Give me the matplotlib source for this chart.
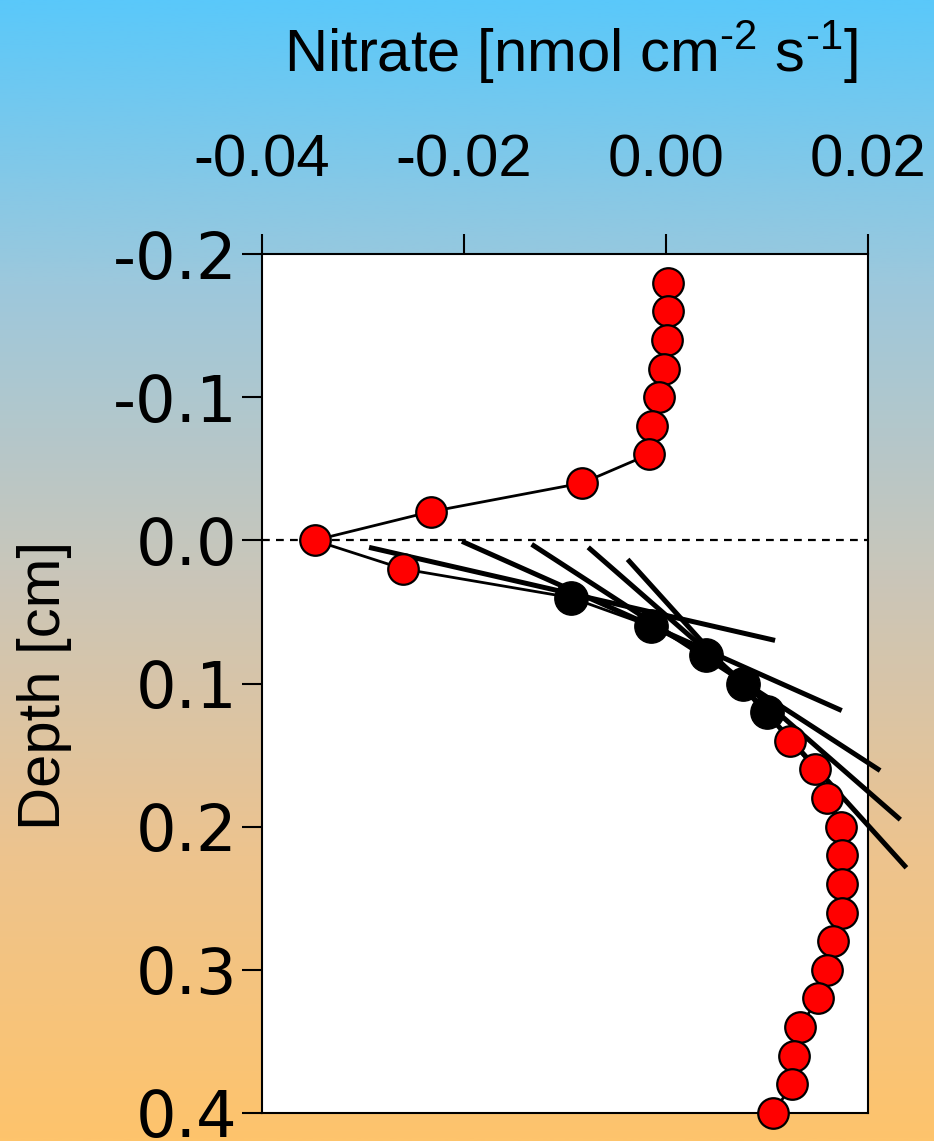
import numpy as np
import matplotlib
matplotlib.use("Agg")
import matplotlib.pyplot as plt
from matplotlib.colors import LinearSegmentedColormap

plt.rcParams['font.family'] = ['Liberation Sans', 'DejaVu Sans']
plt.rcParams['mathtext.fontset'] = 'custom'
plt.rcParams['mathtext.rm'] = 'Liberation Sans'
plt.rcParams['mathtext.it'] = 'Liberation Sans'

# ---------------- data ----------------
depth_red = [-0.18, -0.16, -0.14, -0.12, -0.10, -0.08, -0.06, -0.04, -0.02, 0.00, 0.02,
             0.14, 0.16, 0.18, 0.20, 0.22, 0.24, 0.26, 0.28, 0.30, 0.32, 0.34, 0.36, 0.38, 0.40]
nitrate_red = [0.0002, 0.0002, 0.0001, -0.0002, -0.0007, -0.0014, -0.0017, -0.0083, -0.0233, -0.0348, -0.0260,
               0.0123, 0.0148, 0.0159, 0.0173, 0.0174, 0.0174, 0.0174, 0.0165, 0.0159, 0.0150, 0.0133, 0.0127, 0.0125, 0.0106]

depth_black = [0.04, 0.06, 0.08, 0.10, 0.12]
nitrate_black = [-0.0094, -0.0015, 0.0040, 0.0076, 0.0100]

# connecting line (depth order)
depth_line = [-0.18, -0.16, -0.14, -0.12, -0.10, -0.08, -0.06, -0.04, -0.02, 0.00, 0.02, 0.04, 0.06,
              0.08, 0.10, 0.12, 0.14, 0.16, 0.18, 0.20, 0.22, 0.24, 0.26, 0.28, 0.30, 0.32, 0.34,
              0.36, 0.38, 0.40]
nitrate_line = [0.0002, 0.0002, 0.0001, -0.0002, -0.0007, -0.0014, -0.0017, -0.0083, -0.0233, -0.0348, -0.0260,
                -0.0094, -0.0015, 0.0040, 0.0076, 0.0100, 0.0123, 0.0148, 0.0159, 0.0173, 0.0174, 0.0174,
                0.0174, 0.0165, 0.0159, 0.0150, 0.0133, 0.0127, 0.0125, 0.0106]

# tangent segments (start/end in data coords)
tan_x0 = [-0.0294, -0.0202, -0.0133, -0.0077, -0.0038]
tan_y0 = [0.0049, 0.0007, 0.0028, 0.0049, 0.0133]
tan_x1 = [0.0108, 0.0174, 0.0212, 0.0232, 0.0238]
tan_y1 = [0.0699, 0.1189, 0.1608, 0.1951, 0.2287]

xticks = [-0.04, -0.02, 0.00, 0.02]
xticklabels = ["-0.04", "-0.02", "0.00", "0.02"]
yticks = [-0.2, -0.1, 0.0, 0.1, 0.2, 0.3, 0.4]
yticklabels = ["-0.2", "-0.1", "0.0", "0.1", "0.2", "0.3", "0.4"]

# ---------------- figure ----------------
W, H = 934, 1141
fig = plt.figure(figsize=(W / 100, H / 100), dpi=100)

# gradient background
bg = fig.add_axes([0, 0, 1, 1], zorder=-10)
cmap = LinearSegmentedColormap.from_list(
    "bg", [(0.0, "#5AC8FA"), (0.25, "#9DC8DC"), (0.5, "#C9C6BA"), (0.75, "#EDC38E"), (1.0, "#FEC46C")])
grad = np.linspace(0, 1, 512).reshape(-1, 1)
bg.imshow(grad, aspect="auto", cmap=cmap, extent=[0, 1, 1, 0])
bg.set_xlim(0, 1)
bg.set_ylim(1, 0)
bg.axis("off")

ax = fig.add_axes([262 / W, 1 - 1113 / H, (868 - 262) / W, (1113 - 254) / H])
ax.set_facecolor("white")

ax.axhline(0, color="black", lw=1.6, dashes=(3.5, 2.8), zorder=1)

ax.plot(nitrate_line, depth_line, color="black", lw=2.0, zorder=2)

for x0, y0, x1, y1 in zip(tan_x0, tan_y0, tan_x1, tan_y1):
    ax.plot([x0, x1], [y0, y1], color="black", lw=3.6, solid_capstyle="butt", zorder=3, clip_on=False)

ax.plot(nitrate_red, depth_red, linestyle="none", marker="o", ms=22, mfc="#FF0000", mec="black", mew=1.6,
        zorder=4, clip_on=False)
ax.plot(nitrate_black, depth_black, linestyle="none", marker="o", ms=24, mfc="black", mec="black", mew=1,
        zorder=5, clip_on=False)

ax.set_xlim(-0.04, 0.02)
ax.set_ylim(0.4, -0.2)

ax.xaxis.tick_top()
ax.set_xticks(xticks)
ax.set_xticklabels(xticklabels)
ax.set_yticks(yticks)
ax.set_yticklabels(yticklabels, family=['DejaVu Sans'], fontsize=46)
ax.tick_params(axis="both", direction="out", length=14.5, width=1.5, colors="black")
ax.tick_params(axis="x", pad=33, labelsize=43)
ax.tick_params(axis="y", pad=3)
for s in ax.spines.values():
    s.set_linewidth(1.5)

fig.text(571 / W, 1 - 52 / H, r"Nitrate [nmol cm$^{\text{-2}}$ s$^{\text{-1}}$]",
         ha="center", va="center", fontsize=43)
fig.text(45 / W, 1 - 685 / H, "Depth [cm]", rotation=90, ha="center", va="center", fontsize=43)

fig.savefig("out.png", dpi=100)
